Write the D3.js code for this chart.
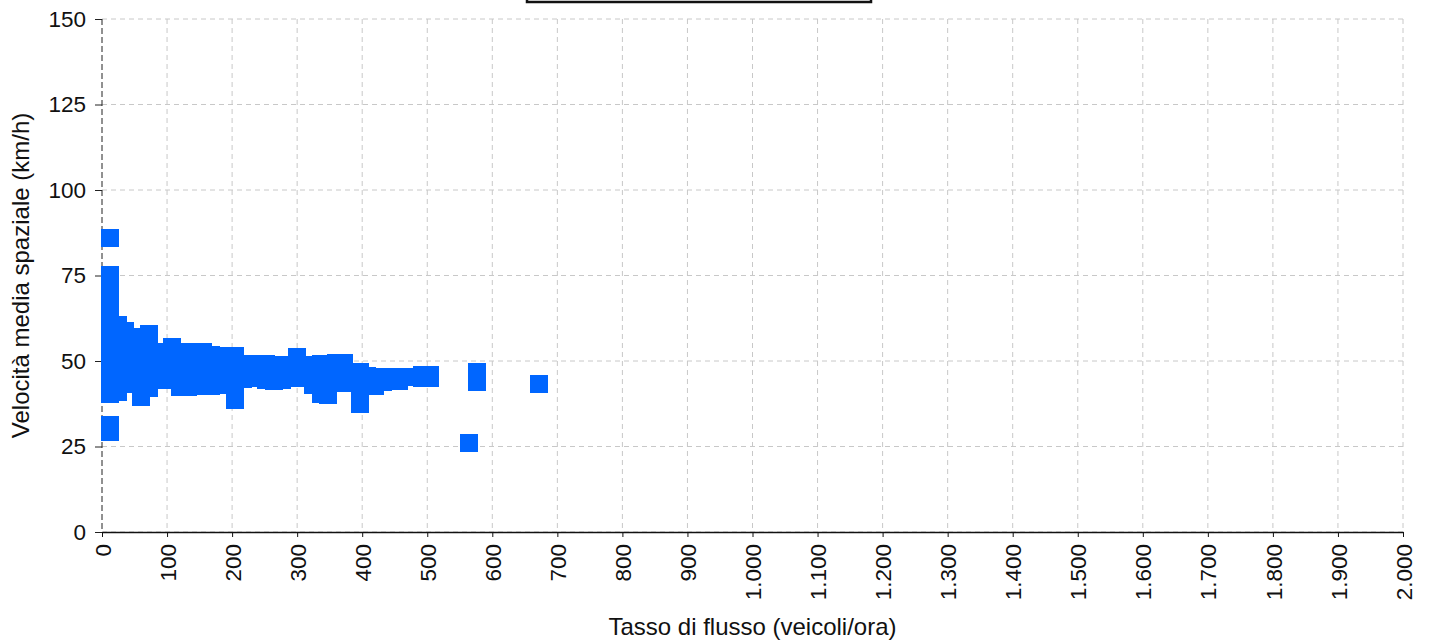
<!DOCTYPE html>
<html>
<head>
<meta charset="utf-8">
<script src="https://cdn.jsdelivr.net/npm/d3@7"></script>
<style>
  html, body { margin: 0; padding: 0; background: #ffffff; }
  svg { display: block; font-family: "Liberation Sans", Arial, sans-serif; }
</style>
</head>
<body>
<svg id="chart" width="1435" height="640"></svg>
<script>
// ---- data ----
const flowRates = [
  12,12,12,12,12,12,12,12,12,12,12,12,
  24,24,24,24,24,24,
  36,36,36,36,36,
  48,48,48,48,
  60,60,60,60,60,
  72,72,72,72,72,
  84,84,84,
  96,96,96,
  108,108,108,108,
  120,120,120,
  132,132,132,
  144,144,144,
  156,156,156,
  168,168,168,
  180,180,180,
  192,192,192,
  204,204,204,204,
  216,216,
  228,228,
  240,240,
  252,252,
  264,264,
  276,276,
  288,288,
  300,300,300,
  312,312,
  324,324,
  336,336,336,
  348,348,348,
  360,360,360,
  372,372,372,
  384,384,
  396,396,396,
  408,408,
  420,420,
  432,432,
  444,444,
  456,
  468,
  480,
  492,492,
  504,504,
  564,
  576,576,
  672
];
const speeds = [
  86.1,75.2,71,66.5,62,57.5,53,48.5,44.5,40.3,31.3,29.2,
  60.6,56,51.5,47,43.5,40.8,
  58.9,54.5,50,46,43.2,
  56.9,52,47.5,43.5,
  55,50.5,46,42,39.5,
  57.9,53,48.5,44.5,42.2,
  52.5,48.5,44.4,
  51,47,44.4,
  54,50,46,45.3,
  51.8,47.5,42.5,
  52.7,47.8,42.5,
  52.7,47.6,42.6,
  52.6,47.6,42.7,
  51.8,47,42.6,
  51.5,47,43,
  51.5,47.2,43.1,
  51.5,47,42.8,38.6,
  49.1,44.8,
  49.1,45,
  49,45,
  49.1,44.3,
  48.2,44.2,
  48.9,44.3,
  48.9,45,
  51.2,47,45,
  48.9,45,
  47,43,
  49.1,44.5,40.3,
  49.1,44.5,40.1,
  49.4,45,43.6,
  49.4,45,43.6,
  46.8,43.6,
  46.8,42,37.5,
  45.7,42.6,
  44.7,42.6,
  45.4,43.8,
  45.4,44.2,
  44.2,
  45.3,
  45.2,
  45.9,45.1,
  45.9,45.1,
  26,
  46.7,44,
  43.4
];
const xTicks = d3.range(0, 2001, 100);
const yTicks = [0, 25, 50, 75, 100, 125, 150];
const xTitle = "Tasso di flusso (veicoli/ora)";
const yTitle = "Velocità media spaziale (km/h)";

// ---- layout ----
const svg = d3.select("#chart");
const mLeft = 102, mRight = 1403, mTop = 19, mBottom = 532;
const x = d3.scaleLinear().domain([0, 2000]).range([mLeft, mRight]);
const y = d3.scaleLinear().domain([0, 150]).range([mBottom, mTop]);
const itFmt = d3.formatLocale({decimal: ",", thousands: ".", grouping: [3], currency: ["€", ""]}).format(",d");

// gridlines
const grid = svg.append("g");
grid.selectAll("line.v").data(xTicks.filter(d => d > 0)).join("line")
  .attr("x1", d => x(d)).attr("x2", d => x(d))
  .attr("y1", mTop).attr("y2", mBottom)
  .attr("stroke", "#c8c8c8").attr("stroke-width", 1).attr("stroke-dasharray", "5,4");
grid.selectAll("line.h").data(yTicks).join("line")
  .attr("x1", mLeft).attr("x2", mRight)
  .attr("y1", d => y(d)).attr("y2", d => y(d))
  .attr("stroke", "#c8c8c8").attr("stroke-width", 1).attr("stroke-dasharray", "5,4");

// y axis (dashed dark line)
svg.append("line").attr("x1", mLeft).attr("x2", mLeft).attr("y1", mTop).attr("y2", mBottom)
  .attr("stroke", "#222").attr("stroke-width", 1).attr("stroke-dasharray", "6,3");
const yAx = svg.append("g").attr("transform", `translate(${mLeft},0)`)
  .call(d3.axisLeft(y).tickValues(yTicks).tickSize(7).tickPadding(9).tickFormat(d3.format("d")));
yAx.select(".domain").remove();
yAx.selectAll("line").attr("stroke", "#222");
yAx.selectAll("text").attr("font-size", 22.5).attr("fill", "#111")
  .attr("font-family", "Liberation Sans, Arial, sans-serif");

// x axis
const xAx = svg.append("g").attr("transform", `translate(0,${mBottom})`)
  .call(d3.axisBottom(x).tickValues(xTicks).tickSize(5).tickSizeOuter(0).tickFormat(itFmt));
xAx.select(".domain").attr("stroke", "#111").attr("stroke-width", 1.5);
xAx.selectAll("line").attr("stroke", "#111");
xAx.selectAll("text")
  .attr("font-size", 22.5).attr("fill", "#111")
  .attr("font-family", "Liberation Sans, Arial, sans-serif")
  .attr("text-anchor", "end")
  .attr("transform", "rotate(-90)")
  .attr("x", -12).attr("y", 0).attr("dy", "0.36em");

// points
const pts = flowRates.map((f, i) => ({f, s: speeds[i]}));
const size = 18;
svg.append("g").attr("shape-rendering", "crispEdges")
  .selectAll("rect").data(pts).join("rect")
  .attr("x", d => x(d.f) - size / 2)
  .attr("y", d => y(d.s) - size / 2)
  .attr("width", size).attr("height", size)
  .attr("fill", "#0066ff");

// axis titles
svg.append("text").attr("x", (mLeft + mRight) / 2).attr("y", 635)
  .attr("text-anchor", "middle").attr("font-size", 24).attr("fill", "#111")
  .text(xTitle);
svg.append("text").attr("transform", `translate(29,${(mTop + mBottom) / 2}) rotate(-90)`)
  .attr("text-anchor", "middle").attr("font-size", 24).attr("fill", "#111")
  .text(yTitle);

// legend box (clipped at top)
svg.append("rect").attr("x", 527).attr("y", -40).attr("width", 344).attr("height", 42)
  .attr("fill", "#fff").attr("stroke", "#111").attr("stroke-width", 2.5);
</script>
</body>
</html>
